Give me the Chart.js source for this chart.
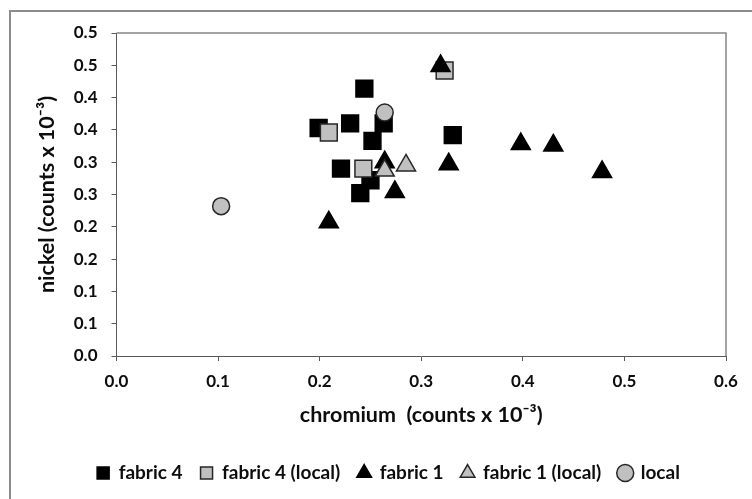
<!DOCTYPE html>
<html>
<head>
<meta charset="utf-8">
<script src="https://cdn.jsdelivr.net/npm/chart.js@4.4.0/dist/chart.umd.min.js"></script>
<style>
  html, body { margin: 0; padding: 0; background: #fff; }
</style>
</head>
<body>
<canvas id="scatterChart" width="752" height="499"></canvas>
<script>
// values (counts x 10^-3)
const fabric4 = [
  [0.244, 0.414], [0.263, 0.360], [0.199, 0.353], [0.230, 0.360], [0.252, 0.333],
  [0.331, 0.342], [0.221, 0.290], [0.250, 0.272], [0.240, 0.252]
];
const fabric4Local = [[0.323, 0.442], [0.209, 0.346], [0.243, 0.290]];
const fabric1 = [
  [0.319, 0.449], [0.264, 0.300], [0.327, 0.297], [0.274, 0.254],
  [0.209, 0.207], [0.398, 0.328], [0.430, 0.326], [0.478, 0.285]
];
const fabric1Local = [[0.264, 0.287], [0.285, 0.295]];
const local = [[0.103, 0.232], [0.264, 0.377]];

const xTickLabels = ["0.0", "0.1", "0.2", "0.3", "0.4", "0.5", "0.6"];
const yTickLabels = ["0.0", "0.1", "0.1", "0.2", "0.2", "0.3", "0.3", "0.4", "0.4", "0.5", "0.5"];

const toPoints = arr => arr.map(p => ({ x: p[0], y: p[1] }));
const FONT = "Lato";
const TEXT = "#0d0d0d";
const GREY = "#c0c0c0";
const EDGE = "#262626";

// outer frame, plot frame, legend nudge
const framePlugin = {
  id: "frame",
  afterLayout(chart) {
    const lg = chart.legend;
    const dx = 388.5 - (lg.left + lg.right) / 2;
    lg.left += dx;
    lg.right += dx;
  },
  beforeDraw(chart) {
    const ctx = chart.ctx;
    ctx.save();
    ctx.fillStyle = "#fff";
    ctx.fillRect(0, 0, chart.width, chart.height);
    ctx.strokeStyle = "#8c8c8c";
    ctx.lineWidth = 2;
    ctx.strokeRect(10, 11, chart.width + 20, chart.height + 20);
    ctx.restore();
  },
  beforeDatasetsDraw(chart) {
    const { ctx, chartArea: a } = chart;
    ctx.save();
    ctx.strokeStyle = "#868686";
    ctx.lineWidth = 1.5;
    ctx.beginPath();
    ctx.moveTo(a.left, a.top);
    ctx.lineTo(a.right, a.top);
    ctx.lineTo(a.right, a.bottom);
    ctx.stroke();
    ctx.restore();
  }
};

new Chart(document.getElementById("scatterChart"), {
  type: "scatter",
  data: {
    datasets: [
      {
        label: "fabric 4",
        data: toPoints(fabric4),
        pointStyle: "rect",
        backgroundColor: "#000",
        borderColor: "#000",
        borderWidth: 1.5,
        pointRadius: 11.9,
        order: 5
      },
      {
        label: "fabric 4 (local)",
        data: toPoints(fabric4Local),
        pointStyle: "rect",
        backgroundColor: GREY,
        borderColor: EDGE,
        borderWidth: 1.5,
        pointRadius: 11.9,
        order: 4
      },
      {
        label: "fabric 1",
        data: toPoints(fabric1),
        pointStyle: "triangle",
        backgroundColor: "#000",
        borderColor: "#000",
        borderWidth: 1.5,
        pointRadius: 11,
        order: 3
      },
      {
        label: "fabric 1 (local)",
        data: toPoints(fabric1Local),
        pointStyle: "triangle",
        backgroundColor: GREY,
        borderColor: EDGE,
        borderWidth: 1.5,
        pointRadius: 11,
        order: 2
      },
      {
        label: "local",
        data: toPoints(local),
        pointStyle: "circle",
        backgroundColor: GREY,
        borderColor: EDGE,
        borderWidth: 1.5,
        pointRadius: 8.5,
        order: 1
      }
    ]
  },
  options: {
    responsive: false,
    animation: false,
    layout: { padding: { top: 33, right: 26, bottom: 6.5, left: 0 } },
    plugins: {
      tooltip: { enabled: false },
      legend: {
        position: "bottom",
        reverse: true,
        labels: {
          usePointStyle: true,
          boxWidth: 12,
          boxHeight: 12,
          padding: 18,
          color: TEXT,
          font: { family: FONT, size: 19, weight: "bold" }
        }
      }
    },
    scales: {
      x: {
        type: "linear",
        min: 0,
        max: 0.6,
        afterFit: s => { s.height = 89.5; },
        ticks: {
          stepSize: 0.1,
          padding: 10.5,
          color: TEXT,
          font: { family: FONT, size: 17, weight: "bold" },
          callback: (v, i) => xTickLabels[i]
        },
        grid: { drawOnChartArea: false, drawTicks: true, tickLength: 5, color: "#595959" },
        border: { display: true, color: "#595959", width: 1 },
        title: {
          display: true,
          text: "chromium  (counts x 10\u207B\u00B3)",
          color: TEXT,
          font: { family: FONT, size: 21.5, weight: "bold" },
          padding: { top: 0, bottom: 17.6 }
        }
      },
      y: {
        min: 0,
        max: 0.5,
        afterFit: s => { s.width = 116.5; },
        ticks: {
          stepSize: 0.05,
          padding: 14,
          color: TEXT,
          font: { family: FONT, size: 17, weight: "bold" },
          callback: (v, i) => yTickLabels[i]
        },
        grid: { drawOnChartArea: false, drawTicks: true, tickLength: 5, color: "#595959" },
        border: { display: true, color: "#595959", width: 1 },
        title: {
          display: true,
          text: "nickel (counts x 10\u207B\u00B3)",
          color: TEXT,
          font: { family: FONT, size: 21.5, weight: "bold" },
          padding: { top: 34, bottom: 0 }
        }
      }
    }
  },
  plugins: [framePlugin]
});
</script>
</body>
</html>
